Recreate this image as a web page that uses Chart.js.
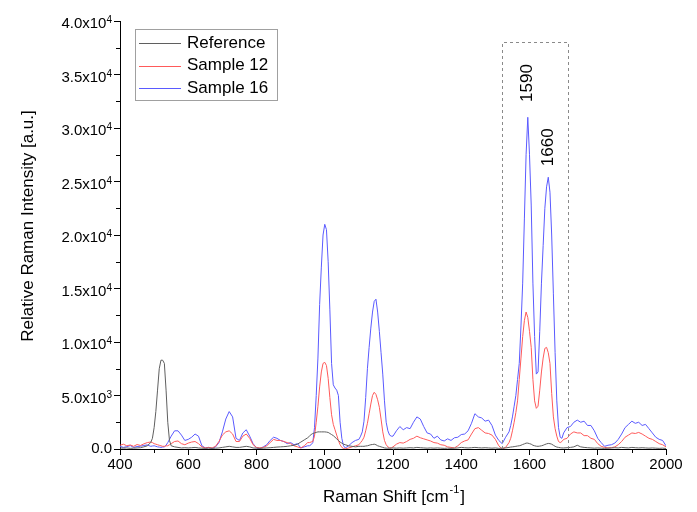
<!DOCTYPE html>
<html>
<head>
<meta charset="utf-8">
<script src="https://cdn.jsdelivr.net/npm/chart.js@4.4.0/dist/chart.umd.min.js"></script>
<style>
  html, body { margin: 0; padding: 0; background: #fff; }
  #wrap { width: 697px; height: 512px; }
</style>
</head>
<body>
<div id="wrap"><canvas id="raman" width="697" height="512"></canvas></div>
<script>
// Raman spectra.
// Sampling is 10 cm-1, tightened to 5 cm-1 around the sharp bands.
const wavenumbers = [
  400, 410, 420, 430, 440, 450, 460, 470, 480,
  490, 495, 500, 505, 510, 515, 520, 525, 530, 535, 540, 545, 550,
  560, 570, 580, 590, 600, 610, 620, 630, 640, 650,
  660, 670, 680, 690, 700, 710, 720, 730, 740, 750,
  760, 770, 780, 790, 800, 810, 820, 830, 840, 850,
  860, 870, 880, 890, 900, 910, 920, 930, 940, 950,
  955, 960, 965, 970, 975, 980, 985, 990, 995, 1000,
  1005, 1010, 1015, 1020, 1025, 1030, 1035, 1040, 1045, 1050,
  1055, 1060,
  1070, 1080, 1090, 1100,
  1105, 1110, 1115, 1120, 1125, 1130, 1135, 1140, 1145, 1150,
  1155, 1160, 1165, 1170, 1175, 1180, 1185, 1190, 1195,
  1200, 1210, 1220, 1230, 1240, 1250, 1260, 1270, 1280, 1290,
  1300, 1310, 1320, 1330, 1340, 1350, 1360, 1370, 1380, 1390,
  1400, 1410, 1420, 1430, 1440, 1450, 1460, 1470, 1480, 1490,
  1500, 1510, 1520, 1530, 1540,
  1545, 1550, 1555, 1560, 1565, 1570, 1575, 1580, 1585, 1590,
  1595, 1600, 1605, 1610, 1615, 1620, 1625, 1630, 1635, 1640,
  1645, 1650, 1655, 1660, 1665, 1670, 1675, 1680, 1685, 1690,
  1695, 1700,
  1710, 1720, 1730, 1740, 1750, 1760, 1770, 1780, 1790, 1800,
  1810, 1820, 1830, 1840, 1850, 1860, 1870, 1880, 1890, 1900,
  1910, 1920, 1930, 1940, 1950, 1960, 1970, 1980, 1990, 2000
];

const reference = [
  100, 80, 100, 60, 80, 100, 120, 200, 300,
  600, 1000, 2000, 3500, 5500, 7500, 8300, 8300, 8000, 5500, 2500, 800, 300,
  200, 150, 100, 120, 100, 120, 150, 100, 80, 60,
  80, 60, 80, 100, 150, 200, 250, 200, 150, 150,
  200, 250, 200, 100, 80, 60, 80, 100, 120, 150,
  180, 200, 220, 250, 300, 350, 450, 650, 850, 1050,
  1200, 1350, 1450, 1500, 1550, 1600, 1600, 1600, 1600, 1600,
  1580, 1550, 1450, 1350, 1250, 1100, 950, 800, 650, 550,
  450, 400,
  300, 250, 200, 250,
  250, 250, 250, 280, 300, 350, 400, 420, 450, 400,
  300, 250, 200, 150, 100, 80, 80, 80, 90,
  100, 80, 100, 80, 100, 120, 100, 150, 120, 100,
  80, 100, 80, 100, 80, 60, 80, 60, 80, 100,
  150, 120, 100, 120, 150, 120, 100, 120, 100, 80,
  100, 60, 80, 100, 150,
  180, 200, 220, 250, 280, 300, 350, 420, 480, 550,
  550, 500, 450, 350, 300, 260, 250, 270, 300, 350,
  420, 480, 520, 500, 450, 350, 250, 180, 150, 120,
  100, 100,
  120, 150, 200, 350, 200, 150, 120, 100, 80, 100,
  80, 60, 80, 100, 120, 100, 150, 120, 100, 150,
  120, 100, 120, 100, 80, 100, 80, 60, 80, 50
];

const sample12 = [
  350, 450, 300, 380, 250, 420, 330, 480, 600,
  650, 600, 500, 450, 400, 350, 300, 250, 250, 300, 300, 400, 500,
  700, 750, 500, 400, 550, 650, 700, 500, 200, 100,
  150, 100, 250, 700, 1300, 1600, 1700, 1400, 700, 700,
  1200, 1400, 1000, 400, 150, 100, 150, 300, 600, 900,
  800, 800, 700, 600, 500, 300, 200, 100, 300, 600,
  600, 650, 700, 1200, 2500, 4000, 5800, 7200, 8000, 8100,
  7800, 6600, 4800, 3200, 2300, 1800, 1300, 800, 400, 150,
  50, 0,
  100, 200, 300, 400,
  600, 800, 1100, 1700, 2400, 3300, 4200, 5000, 5300, 5100,
  4600, 3900, 2800, 1600, 800, 400, 200, 100, 100,
  200, 450, 600, 550, 700, 900, 1000, 1200, 1050, 950,
  850, 750, 600, 550, 400, 350, 200, 150, 100, 300,
  600, 750, 850, 1400, 1900, 2000, 1750, 1500, 1450, 1300,
  900, 300, 0, 150, 600,
  1000, 1700, 2500, 3400, 4500, 6500, 8500, 10500, 12000, 12800,
  12300, 11000, 9500, 6500, 4500, 3800, 4000, 5500, 7200, 8500,
  9400, 9500, 9000, 8000, 5200, 3000, 1900, 1200, 700, 600,
  700, 900,
  1000, 1400, 1600, 1500, 1500, 1250, 1250, 1000, 900, 500,
  250, 150, 100, 120, 200, 400, 700, 1100, 1300, 1500,
  1450, 1550, 1400, 1200, 1000, 900, 700, 500, 400, 200
];

const sample16 = [
  250, 150, 220, 320, 150, 230, 260, 330, 380,
  250, 280, 300, 250, 200, 180, 150, 180, 200, 350, 600, 900, 1200,
  1700, 1700, 1300, 800, 900, 1100, 1400, 1200, 300, 100,
  150, 50, 200, 600, 1600, 2800, 3500, 3000, 1000, 800,
  1500, 1800, 1200, 500, 100, 50, 200, 400, 800, 1100,
  1000, 800, 700, 500, 600, 400, 500, 100, 200, 300,
  300, 400, 600, 2000, 5000, 8500, 13500, 17000, 20000, 21000,
  20500, 17500, 13000, 8000, 6000, 5700, 5500, 5000, 2500, 1000,
  300, 100,
  300, 600, 800, 900,
  1200, 1600, 2600, 4800, 7500, 9500, 11300, 12800, 13800, 14000,
  12800, 11000, 9000, 7000, 4500, 2500, 1700, 1300, 1200,
  1200, 1700, 2100, 1800, 2000, 1900, 2500, 3000, 2800, 2100,
  1500, 1400, 1000, 1200, 850, 750, 950, 800, 1050, 1100,
  1350, 1400, 1700, 2400, 3300, 3000, 2900, 2600, 2700, 2200,
  1300, 800, 500, 1100, 1600,
  2200, 3000, 4000, 5000, 6500, 8000, 11500, 15500, 21500, 27500,
  31000, 27500, 22800, 15500, 10500, 7000, 7200, 11000, 15500, 19000,
  22500, 24500, 25400, 24000, 20000, 14500, 9000, 4500, 2000, 1100,
  1000, 1500,
  2000, 2100, 2500, 2700, 2500, 2600, 2200, 2200, 1700, 1000,
  600, 250, 350, 400, 550, 900, 1400, 2000, 2300, 2600,
  2400, 2500, 2200, 2300, 1900, 1500, 1100, 900, 800, 300
];

const seriesLabels  = ['Reference', 'Sample 12', 'Sample 16'];
const seriesColors  = ['rgb(95,95,95)', 'rgb(255,90,90)', 'rgb(90,90,255)'];
const xMinorTicks   = [500, 700, 900, 1100, 1300, 1500, 1700, 1900];
const yTickValues   = [0, 5000, 10000, 15000, 20000, 25000, 30000, 35000, 40000];
const yTickMantissa = ['0.0', '5.0x10', '1.0x10', '1.5x10', '2.0x10', '2.5x10', '3.0x10', '3.5x10', '4.0x10'];
const yTickExponent = ['', '3', '4', '4', '4', '4', '4', '4', '4'];
const yMinorTicks   = [2500, 7500, 12500, 17500, 22500, 27500, 32500, 37500];
const peakBox       = { from: 1520, to: 1713, top: 38000 };
const peakLabels    = [
  { text: '1590', x: 1594, y: 34200 },
  { text: '1660', x: 1656, y: 28200 },
];

const FONT = "'Liberation Sans', Arial, sans-serif";

function toPoints(values) {
  return values.map((v, i) => ({ x: wavenumbers[i], y: v }));
}

const decorations = {
  id: 'decorations',
  afterDraw(chart) {
    const { ctx, chartArea: area } = chart;
    const xs = chart.scales.x;
    const ys = chart.scales.y;
    ctx.save();

    // minor ticks
    ctx.strokeStyle = '#000';
    ctx.lineWidth = 1;
    ctx.beginPath();
    xMinorTicks.forEach(v => {
      const px = Math.round(xs.getPixelForValue(v)) + 0.5;
      ctx.moveTo(px, area.bottom);
      ctx.lineTo(px, area.bottom + 4);
    });
    yMinorTicks.forEach(v => {
      const py = Math.round(ys.getPixelForValue(v)) + 0.5;
      ctx.moveTo(area.left, py);
      ctx.lineTo(area.left - 4, py);
    });
    ctx.stroke();

    // dashed box round the 1590/1660 bands
    const bx0 = Math.round(xs.getPixelForValue(peakBox.from)) + 0.5;
    const bx1 = Math.round(xs.getPixelForValue(peakBox.to)) + 0.5;
    const by0 = Math.round(ys.getPixelForValue(peakBox.top)) + 0.5;
    const by1 = ys.getPixelForValue(0);
    ctx.strokeStyle = '#8a8a8a';
    ctx.setLineDash([3, 3]);
    ctx.beginPath();
    ctx.moveTo(bx0, by1);
    ctx.lineTo(bx0, by0);
    ctx.lineTo(bx1, by0);
    ctx.lineTo(bx1, by1);
    ctx.stroke();
    ctx.setLineDash([]);

    // rotated peak labels
    ctx.fillStyle = '#000';
    ctx.font = `17px ${FONT}`;
    ctx.textAlign = 'center';
    ctx.textBaseline = 'middle';
    peakLabels.forEach(l => {
      ctx.save();
      ctx.translate(xs.getPixelForValue(l.x), ys.getPixelForValue(l.y));
      ctx.rotate(-Math.PI / 2);
      ctx.fillText(l.text, 0, 0);
      ctx.restore();
    });

    // y tick labels with superscript exponent
    ctx.textAlign = 'right';
    yTickValues.forEach((v, i) => {
      const py = ys.getPixelForValue(v);
      const right = area.left - 8;
      ctx.font = `10px ${FONT}`;
      const ew = yTickExponent[i] ? ctx.measureText(yTickExponent[i]).width : 0;
      if (yTickExponent[i]) {
        ctx.textBaseline = 'alphabetic';
        ctx.fillText(yTickExponent[i], right, py + 2);
      }
      ctx.font = `15px ${FONT}`;
      ctx.textBaseline = 'middle';
      ctx.fillText(yTickMantissa[i], right - ew, yTickExponent[i] ? py + 3 : py);
    });

    // axis titles
    ctx.font = `17px ${FONT}`;
    ctx.textAlign = 'center';
    ctx.textBaseline = 'middle';
    ctx.save();
    ctx.translate(28, 226);
    ctx.rotate(-Math.PI / 2);
    ctx.fillText('Relative Raman Intensity [a.u.]', 0, 0);
    ctx.restore();

    const t1 = 'Raman Shift [cm', sup = '-1', t2 = ']';
    const w1 = ctx.measureText(t1).width;
    const w2 = ctx.measureText(t2).width;
    ctx.font = `11px ${FONT}`;
    const ws = ctx.measureText(sup).width;
    const tx = 394 - (w1 + ws + w2 + 2) / 2;
    const ty = 497;
    ctx.textAlign = 'left';
    ctx.font = `17px ${FONT}`;
    ctx.fillText(t1, tx, ty);
    ctx.font = `11px ${FONT}`;
    ctx.fillText(sup, tx + w1 + 1, ty - 7);
    ctx.font = `17px ${FONT}`;
    ctx.fillText(t2, tx + w1 + ws + 2, ty);

    // legend
    ctx.strokeStyle = '#a0a0a0';
    ctx.strokeRect(135.5, 29.5, 142, 71);
    chart.data.datasets.forEach((ds, i) => {
      const ry = 43 + i * 22.5;
      ctx.strokeStyle = ds.borderColor;
      ctx.beginPath();
      ctx.moveTo(139, Math.round(ry) + 0.5);
      ctx.lineTo(181, Math.round(ry) + 0.5);
      ctx.stroke();
      ctx.fillStyle = '#000';
      ctx.font = `17px ${FONT}`;
      ctx.textAlign = 'left';
      ctx.textBaseline = 'middle';
      ctx.fillText(ds.label, 187, ry);
    });

    ctx.restore();
  },
};

new Chart(document.getElementById('raman'), {
  type: 'line',
  data: {
    datasets: [reference, sample12, sample16].map((vals, i) => ({
      label: seriesLabels[i],
      data: toPoints(vals),
      borderColor: seriesColors[i],
      borderWidth: 1,
      pointRadius: 0,
      tension: 0,
      fill: false,
    })),
  },
  options: {
    responsive: false,
    animation: false,
    devicePixelRatio: 1,
    layout: { padding: { left: 0, top: 21, right: 31, bottom: 0 } },
    plugins: { legend: { display: false }, tooltip: { enabled: false } },
    scales: {
      x: {
        type: 'linear',
        min: 400,
        max: 2000,
        afterFit: (s) => { s.height = 63; },
        ticks: {
          stepSize: 200,
          autoSkip: false,
          maxRotation: 0,
          color: '#000',
          padding: 1,
          font: { size: 15, family: FONT },
          callback: (v) => String(v),
        },
        grid: { drawOnChartArea: false, tickLength: 6, color: '#000' },
        border: { color: '#000', width: 1 },
      },
      y: {
        min: 0,
        max: 40000,
        afterFit: (s) => { s.width = 120; },
        ticks: { stepSize: 5000, callback: () => '' },
        grid: { drawOnChartArea: false, tickLength: 6, color: '#000' },
        border: { color: '#000', width: 1 },
      },
    },
  },
  plugins: [decorations],
});
</script>
</body>
</html>
